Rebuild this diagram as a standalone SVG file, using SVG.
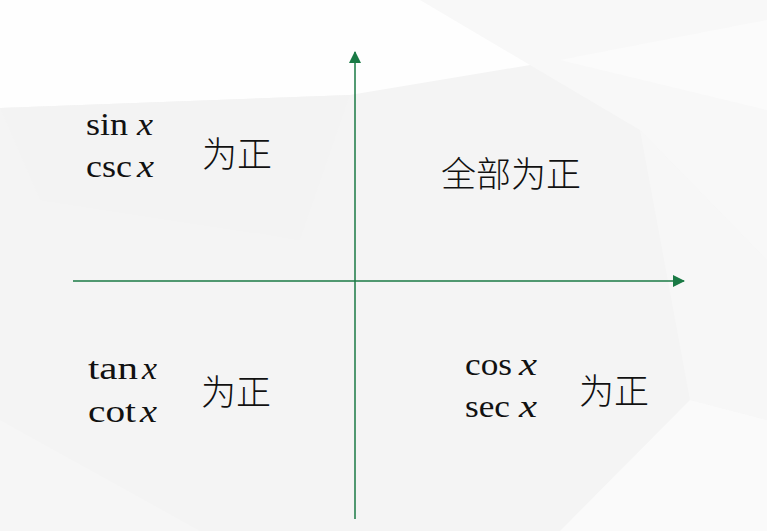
<svg xmlns="http://www.w3.org/2000/svg" width="767" height="531" viewBox="0 0 767 531">
<style>
.m{font-family:"Liberation Serif","DejaVu Serif",serif;font-size:32px;fill:#111}
.i{font-style:italic}
.c{font-family:"Noto Sans CJK SC","Noto Sans",sans-serif;font-size:35px;font-weight:300;fill:#111;dominant-baseline:central}
.ax{stroke:#1a7a45;stroke-width:1.5;fill:none}
</style>
<defs>
<marker id="ah" viewBox="0 0 12 12" refX="11" refY="6" markerWidth="12" markerHeight="12" markerUnits="userSpaceOnUse" orient="auto">
<path d="M0,0 L12,6 L0,12 Z" fill="#1a7a45"/>
</marker>
</defs>
<g id="background">
<rect width="767" height="531" fill="#f4f4f4"/>
<polygon points="0,0 767,0 767,20 560,60 350,95 0,108" fill="#fefefe"/>
<polygon points="420,0 767,0 767,260 640,130" fill="#f8f8f8"/>
<polygon points="560,60 767,20 767,110" fill="#fbfbfb"/>
<polygon points="0,108 350,95 300,240 40,200" fill="#f3f3f3"/>
<polygon points="640,130 767,260 767,420 690,400" fill="#f7f7f7"/>
<polygon points="690,400 767,420 767,531 560,531" fill="#fafafa"/>
<polygon points="0,420 200,531 0,531" fill="#f6f6f6"/>
</g>
<g id="connectors">
<line class="ax" x1="355" y1="519" x2="355" y2="52" marker-end="url(#ah)"/>
<line class="ax" x1="73" y1="281" x2="684" y2="281" marker-end="url(#ah)"/>
</g>
<g id="q2">
<text class="m" y="134.5"><tspan x="86" textLength="42" lengthAdjust="spacingAndGlyphs">sin</tspan><tspan class="i" x="137" textLength="16" lengthAdjust="spacingAndGlyphs">x</tspan></text>
<text class="m" y="176.5"><tspan x="86" textLength="46" lengthAdjust="spacingAndGlyphs">csc</tspan><tspan class="i" x="137" textLength="17" lengthAdjust="spacingAndGlyphs">x</tspan></text>
<text class="c" x="202" y="151">为正</text>
</g>
<g id="q1">
<text class="c" x="441" y="171">全部为正</text>
</g>
<g id="q3">
<text class="m" y="379"><tspan x="88" textLength="50" lengthAdjust="spacingAndGlyphs">tan</tspan><tspan class="i" x="142" textLength="15" lengthAdjust="spacingAndGlyphs">x</tspan></text>
<text class="m" y="421.5"><tspan x="88" textLength="48" lengthAdjust="spacingAndGlyphs">cot</tspan><tspan class="i" x="140" textLength="17" lengthAdjust="spacingAndGlyphs">x</tspan></text>
<text class="c" x="201" y="389">为正</text>
</g>
<g id="q4">
<text class="m" y="375"><tspan x="465" textLength="47" lengthAdjust="spacingAndGlyphs">cos</tspan><tspan class="i" x="519" textLength="18" lengthAdjust="spacingAndGlyphs">x</tspan></text>
<text class="m" y="417"><tspan x="465" textLength="45" lengthAdjust="spacingAndGlyphs">sec</tspan><tspan class="i" x="519" textLength="18" lengthAdjust="spacingAndGlyphs">x</tspan></text>
<text class="c" x="579" y="388">为正</text>
</g>
</svg>
